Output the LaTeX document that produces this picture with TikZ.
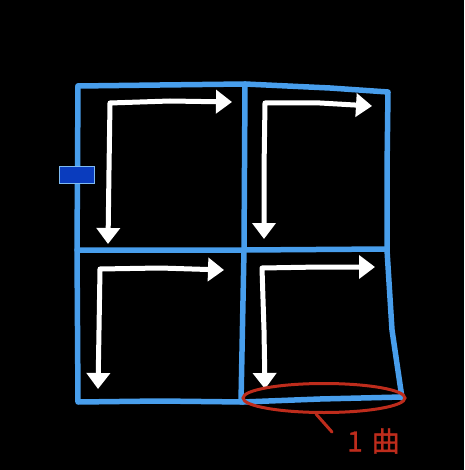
\documentclass[tikz,border=0pt]{standalone}
\usepackage{fontspec}
\newfontfamily\cjk[AutoFakeBold=1.2]{Noto Sans CJK SC}
\usetikzlibrary{arrows.meta,shapes.geometric}
\definecolor{gridblue}{RGB}{72,158,236}
\definecolor{tabblue}{RGB}{10,60,190}
\definecolor{markred}{RGB}{190,44,28}
\tikzset{
  gridline/.style={draw=gridblue,line width=5.5pt,line cap=round,line join=round},
  walk/.style={draw=white,line width=5pt,line join=round,{Triangle[width=23pt,length=16pt]}-{Triangle[width=23pt,length=16pt]}},
  redmark/.style={draw=markred,line width=3pt},
}
\begin{document}
\begin{tikzpicture}[x=1pt,y=-1pt]
\useasboundingbox[fill=black] (0,0) rectangle (464,470);
% grid
\draw[gridline] (78,86) -- (160,85) -- (245,84) -- (330,88) -- (388,92)
  -- (387,170) -- (387,250) -- (392,330) -- (402,398);
\draw[gridline] (78,86) -- (77,250) -- (78,402) -- (160,401) -- (243,402);
\draw[gridline] (245,84) -- (244,250) -- (241,402);
\draw[gridline] (77,250) -- (245,250) -- (387,249);
\draw[gridline] (243,402) -- (320,399) -- (402,397);
% blue tab
\node[draw=gridblue!70,fill=tabblue,line width=0.8pt,minimum width=35pt,minimum height=17pt,inner sep=0pt] (tab) at (77,175) {};
% arrows
\draw[walk] (232,102) -- (170,101) -- (110,103) -- (109,170) -- (108,244);
\draw[walk] (372,106) -- (320,103) -- (265,103) -- (264,170) -- (264,239);
\draw[walk] (224,270) -- (160,268) -- (100,269) -- (99,330) -- (98,389);
\draw[walk] (375,267) -- (320,267) -- (262,268) -- (264,330) -- (265,389);
% red mark
\node[ellipse,redmark,minimum width=162pt,minimum height=29pt,inner sep=0pt] (sel) at (324,398) {};
\node[text=markred,font=\cjk\bfseries\fontsize{28}{30}\selectfont,anchor=west,inner sep=0pt] (lbl) at (347,441) {1\hspace{9pt}曲};
\coordinate (lead) at (332,432);
\draw[redmark,line cap=round] (sel.south) ++(-8,0) -- (lead);
\end{tikzpicture}
\end{document}
